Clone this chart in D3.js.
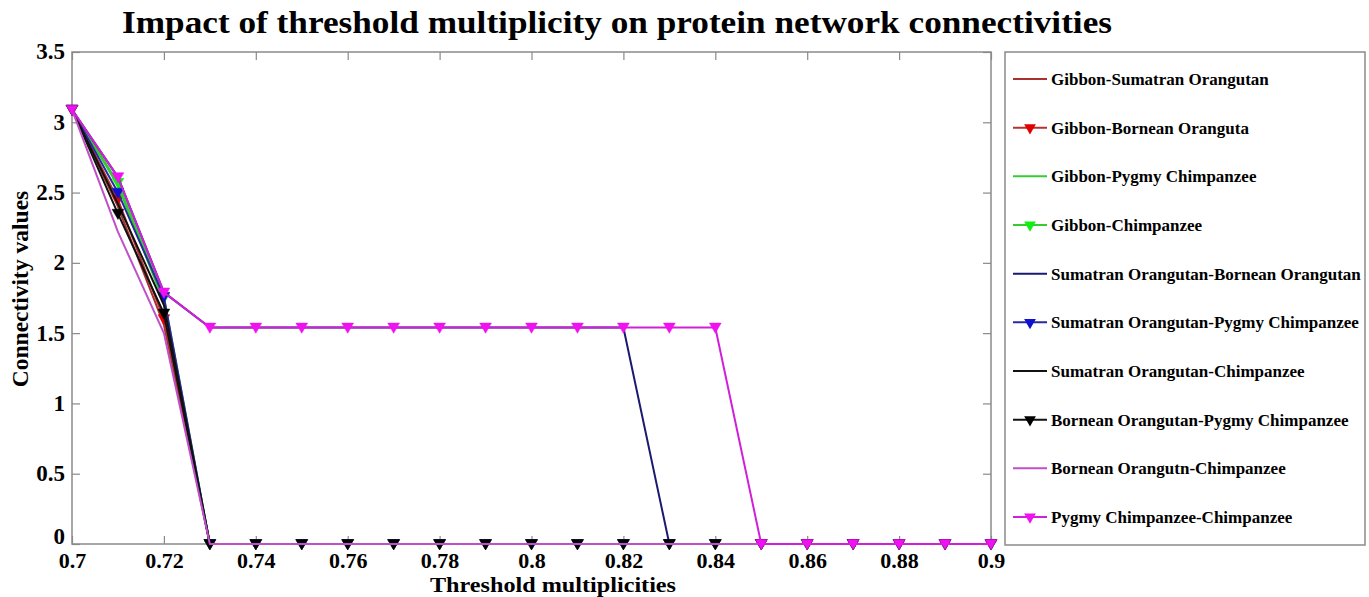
<!DOCTYPE html>
<html><head><meta charset="utf-8">
<script src="https://cdn.jsdelivr.net/npm/d3@7"></script>
<style>body{margin:0;background:#fff}svg{display:block}</style>
</head><body>
<script>
const thresholds = [0.70,0.71,0.72,0.73,0.74,0.75,0.76,0.77,0.78,0.79,0.80,0.81,0.82,0.83,0.84,0.85,0.86,0.87,0.88,0.89,0.90];
const seriesNames = ["Gibbon-Sumatran Orangutan","Gibbon-Bornean Oranguta","Gibbon-Pygmy Chimpanzee","Gibbon-Chimpanzee","Sumatran Orangutan-Bornean Orangutan","Sumatran Orangutan-Pygmy Chimpanzee","Sumatran Orangutan-Chimpanzee","Bornean Orangutan-Pygmy Chimpanzee","Bornean Orangutn-Chimpanzee","Pygmy Chimpanzee-Chimpanzee"];
const gibbonSumatran   = [3.09,2.40,1.56,0,0,0,0,0,0,0,0,0,0,0,0,0,0,0,0,0,0];
const gibbonBornean    = [3.09,2.45,1.60,0,0,0,0,0,0,0,0,0,0,0,0,0,0,0,0,0,0];
const gibbonPygmy      = [3.09,2.55,1.72,0,0,0,0,0,0,0,0,0,0,0,0,0,0,0,0,0,0];
const gibbonChimp      = [3.09,2.57,1.75,0,0,0,0,0,0,0,0,0,0,0,0,0,0,0,0,0,0];
const sumatranBornean  = [3.09,2.61,1.79,1.54,1.54,1.54,1.54,1.54,1.54,1.54,1.54,1.54,1.54,0,0,0,0,0,0,0,0];
const sumatranPygmy    = [3.09,2.50,1.76,0,0,0,0,0,0,0,0,0,0,0,0,0,0,0,0,0,0];
const sumatranChimp    = [3.09,2.42,1.70,0,0,0,0,0,0,0,0,0,0,0,0,0,0,0,0,0,0];
const borneanPygmy     = [3.09,2.35,1.64,0,0,0,0,0,0,0,0,0,0,0,0,0,0,0,0,0,0];
const borneanChimp     = [3.09,2.22,1.50,0,0,0,0,0,0,0,0,0,0,0,0,0,0,0,0,0,0];
const pygmyChimp       = [3.09,2.61,1.79,1.54,1.54,1.54,1.54,1.54,1.54,1.54,1.54,1.54,1.54,1.54,1.54,0,0,0,0,0,0];
const seriesValues = [gibbonSumatran,gibbonBornean,gibbonPygmy,gibbonChimp,sumatranBornean,sumatranPygmy,sumatranChimp,borneanPygmy,borneanChimp,pygmyChimp];
const lineColors   = ["#a83232","#b83030","#33cc33","#33cc33","#1a1a70","#2a2aa0","#111111","#111111","#c050c8","#d020d8"];
const markerColors = [null,"#e00000",null,"#11ee11",null,"#1010d0",null,"#000000",null,"#f010f0"];
const xTicks = [0.7,0.72,0.74,0.76,0.78,0.8,0.82,0.84,0.86,0.88,0.9];
const yTicks = [0,0.5,1,1.5,2,2.5,3,3.5];

const W=1369,H=597;
const svg=d3.select("body").append("svg").attr("width",W).attr("height",H);
const font="'Liberation Serif','Times New Roman',serif";
const x=d3.scaleLinear().domain([0.7,0.9]).range([72,991]);
const y=d3.scaleLinear().domain([0,3.5]).range([544,52]);
const axisColor="#8a8a8a";

// box
svg.append("rect").attr("x",x(0.7)).attr("y",y(3.5)).attr("width",x(0.9)-x(0.7)).attr("height",y(0)-y(3.5))
  .attr("fill","none").attr("stroke",axisColor).attr("stroke-width",1.5);

const fmt=d=>String(d);
const gx=svg.append("g").attr("transform",`translate(0,${y(0)})`).call(d3.axisBottom(x).tickValues(xTicks).tickFormat(fmt).tickSize(-8).tickPadding(6));
const gxt=svg.append("g").attr("transform",`translate(0,${y(3.5)})`).call(d3.axisTop(x).tickValues(xTicks).tickFormat("").tickSize(-8));
const gy=svg.append("g").attr("transform",`translate(${x(0.7)},0)`).call(d3.axisLeft(y).tickValues(yTicks).tickFormat(fmt).tickSize(-8).tickPadding(6));
const gyr=svg.append("g").attr("transform",`translate(${x(0.9)},0)`).call(d3.axisRight(y).tickValues(yTicks).tickFormat("").tickSize(-8));
[gx,gxt,gy,gyr].forEach(g=>{g.select(".domain").remove();g.selectAll(".tick line").attr("stroke",axisColor).attr("stroke-width",1.2);
  g.selectAll("text").attr("fill","#000").style("font-family",font).style("font-weight","bold").style("font-size","23px");});
gx.selectAll("text").style("font-size","22px").attr("y",24).attr("dy",0);
gy.selectAll("text").attr("dx","-1px").attr("dy",d=>d===0?"-0.02em":"0.3em");

// lines
const line=d3.line().x((d,i)=>x(thresholds[i])).y(d=>y(d));
const tri=d3.symbol().type(d3.symbolTriangle).size(60);
seriesValues.forEach((vals,k)=>{
  svg.append("path").datum(vals).attr("d",line).attr("fill","none").attr("stroke",lineColors[k]).attr("stroke-width",2).attr("stroke-linejoin","round");
  if(markerColors[k]){
    svg.append("g").selectAll("path").data(vals).join("path")
      .attr("d",tri).attr("transform",(d,i)=>`translate(${x(thresholds[i])},${y(d)-1}) rotate(180)`)
      .attr("fill",markerColors[k]).attr("stroke",markerColors[k]).attr("stroke-width",0.5);
  }
});

// title & axis labels
svg.append("text").attr("x",617).attr("y",33).attr("text-anchor","middle").text("Impact of threshold multiplicity on protein network connectivities")
  .style("font-family",font).style("font-weight","bold").style("font-size","32px").attr("textLength",990).attr("lengthAdjust","spacingAndGlyphs");
svg.append("text").attr("x",553).attr("y",592.3).attr("text-anchor","middle").text("Threshold multiplicities")
  .style("font-family",font).style("font-weight","bold").style("font-size","21.5px").attr("textLength",246).attr("lengthAdjust","spacingAndGlyphs");
svg.append("text").attr("transform","translate(28,289) rotate(-90)").attr("text-anchor","middle").text("Connectivity values")
  .style("font-family",font).style("font-weight","bold").style("font-size","23.5px");

// legend
const lg=svg.append("g");
lg.append("rect").attr("x",1005).attr("y",52).attr("width",360).attr("height",493).attr("fill","#fff").attr("stroke",axisColor).attr("stroke-width",1.5);
const ly=d3.scalePoint().domain(seriesNames).range([79,517]);
seriesNames.forEach((n,k)=>{
  const yy=ly(n);
  lg.append("line").attr("x1",1013).attr("x2",1047).attr("y1",yy).attr("y2",yy).attr("stroke",lineColors[k]).attr("stroke-width",2);
  if(markerColors[k]) lg.append("path").attr("d",tri).attr("transform",`translate(1030,${yy}) rotate(180)`).attr("fill",markerColors[k]);
  lg.append("text").attr("x",1051).attr("y",yy).attr("dy","0.35em").text(n)
    .style("font-family",font).style("font-weight","bold").style("font-size","17px");
});
</script>
</body></html>
